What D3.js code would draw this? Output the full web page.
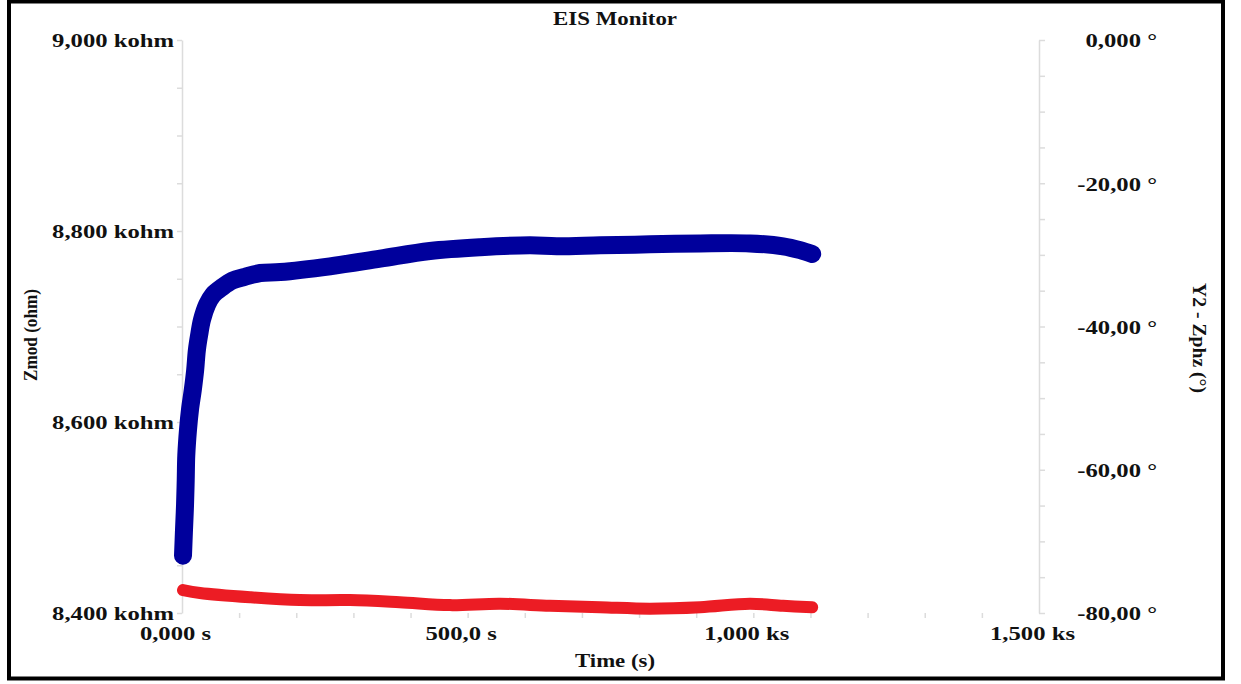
<!DOCTYPE html>
<html>
    <head>
        <meta charset="utf-8">
        <title>EIS Monitor</title>
        <script type="text/javascript" src="https://cdn.jsdelivr.net/npm/d3@7"></script>
        <style>
            body { margin: 0; background: #fff; }
            text { font-family: "Liberation Serif", "Times New Roman", serif; font-weight: bold; fill: #111; }
        </style>
    </head>
    <body>
        <svg id="svg"></svg>

        <script>
            var WIDTH = 1241;
            var HEIGHT = 684;

            // tick labels
            var xTicks = [0, 500, 1000, 1500];
            var xTickLabels = ["0,000 s", "500,0 s", "1,000 ks", "1,500 ks"];
            var zTicks = [8400, 8600, 8800, 9000];
            var zTickLabels = ["8,400 kohm", "8,600 kohm", "8,800 kohm", "9,000 kohm"];
            var phTicks = [0, -20, -40, -60, -80];
            var phTickLabels = ["0,000 °", "-20,00 °", "-40,00 °", "-60,00 °", "-80,00 °"];

            // Zmod series (blue), time in s, value in kohm
            var zmodTime = [1.75, 3.5, 5.3, 6.5, 7.5, 10.5, 14, 19, 23, 26, 30, 35, 44, 54, 70, 88, 110, 137,
                            172, 259, 347, 434, 522, 609, 656, 732, 819, 907, 994, 1052, 1082, 1103];
            var zmodValues = [8460, 8487, 8513, 8539, 8565, 8592, 8613, 8634, 8654, 8675, 8691, 8707, 8723, 8733, 8741, 8748, 8752, 8756,
                              8757, 8763, 8771, 8779, 8783, 8785, 8784, 8785, 8786, 8787, 8787, 8784, 8780, 8776];

            // Zphz series (red), time in s, value in degrees
            var zphzTime = [1.75, 31.5, 119, 206, 294, 381, 469, 557, 644, 732, 819, 907, 994, 1052, 1103];
            var zphzValues = [-76.8, -77.2, -77.8, -78.2, -78.2, -78.5, -78.9, -78.7, -79.0, -79.2, -79.4, -79.2, -78.7, -79.0, -79.2];

            var STRETCH = 1.37;  // the original text is drawn wide

            var svg = d3.select("#svg")
                        .attr("width", WIDTH)
                        .attr("height", HEIGHT)

            var stretch = function(sel){
                sel.each(function(){
                    var w = this.getComputedTextLength();
                    d3.select(this)
                      .attr("textLength", w * STRETCH)
                      .attr("lengthAdjust", "spacingAndGlyphs")
                })
            }

            // frame
            svg.append("rect")
               .attr("x", 9).attr("y", 1.5)
               .attr("width", 1214).attr("height", 677)
               .attr("fill", "none")
               .attr("stroke", "#000")
               .attr("stroke-width", 4)

            var xScale = d3.scaleLinear().domain([0, 1500]).range([182, 1039])
            var yLeft = d3.scaleLinear().domain([8400, 9000]).range([613, 40])
            var yRight = d3.scaleLinear().domain([-80, 0]).range([613, 40])

            var gridColor = "#dcdcdc";

            // left axis: line + minor ticks
            var leftMinor = svg.append("g")
               .attr("transform", "translate(182,0)")
               .call(d3.axisLeft(yLeft).tickValues(d3.range(8400, 9001, 50)).tickSize(5).tickFormat("").tickSizeOuter(0))
            leftMinor.select(".domain").attr("stroke", gridColor).attr("stroke-width", 1.5)
            leftMinor.selectAll(".tick line").attr("stroke", gridColor).attr("stroke-width", 1.5)

            var leftLabels = svg.append("g")
               .attr("transform", "translate(174,0)")
               .call(d3.axisLeft(yLeft).tickValues(zTicks).tickSize(0).tickPadding(0)
                       .tickFormat(function(d, i){ return zTickLabels[i]; }))
            leftLabels.select(".domain").remove()
            leftLabels.attr("font-family", null).attr("font-size", 18)
            leftLabels.selectAll("text").attr("dy", "0.38em").call(stretch)

            // right axis
            var rightMinor = svg.append("g")
               .attr("transform", "translate(1039,0)")
               .call(d3.axisRight(yRight).tickValues(d3.range(-80, 0.1, 5)).tickSize(6).tickFormat("").tickSizeOuter(0))
            rightMinor.select(".domain").attr("stroke", gridColor).attr("stroke-width", 1.5)
            rightMinor.selectAll(".tick line").attr("stroke", gridColor).attr("stroke-width", 1.5)

            var rightLabels = svg.append("g")
               .attr("transform", "translate(1157,0)")
               .call(d3.axisLeft(yRight).tickValues(phTicks).tickSize(0).tickPadding(0)
                       .tickFormat(function(d, i){ return phTickLabels[i]; }))
            rightLabels.select(".domain").remove()
            rightLabels.attr("font-family", null).attr("font-size", 18)
            rightLabels.selectAll("text").attr("dy", "0.38em").call(stretch)

            // bottom axis: minor ticks only
            var bottomMinor = svg.append("g")
               .attr("transform", "translate(0,613)")
               .call(d3.axisBottom(xScale).tickValues(d3.range(100, 1500, 100)).tickSize(5).tickFormat("").tickSizeOuter(0))
            bottomMinor.select(".domain").remove()
            bottomMinor.selectAll(".tick line").attr("stroke", gridColor).attr("stroke-width", 1.5)

            var bottomLabels = svg.append("g")
               .attr("transform", "translate(-7,640)")
               .call(d3.axisBottom(xScale).tickValues(xTicks).tickSize(0).tickPadding(0)
                       .tickFormat(function(d, i){ return xTickLabels[i]; }))
            bottomLabels.select(".domain").remove()
            bottomLabels.attr("font-family", null).attr("font-size", 18)
            bottomLabels.selectAll("text").attr("dy", 0).call(stretch)

            // series
            var zLine = d3.line()
                          .x(function(d){ return xScale(d[0]); })
                          .y(function(d){ return yLeft(d[1]); })
                          .curve(d3.curveCatmullRom)
            var pLine = d3.line()
                          .x(function(d){ return xScale(d[0]); })
                          .y(function(d){ return yRight(d[1]); })
                          .curve(d3.curveCatmullRom)

            svg.append("path")
               .datum(d3.zip(zphzTime, zphzValues))
               .attr("d", pLine)
               .attr("fill", "none")
               .attr("stroke", "#ec1c24")
               .attr("stroke-width", 12)
               .attr("stroke-linecap", "round")
               .attr("stroke-linejoin", "round")

            svg.append("path")
               .datum(d3.zip(zmodTime, zmodValues))
               .attr("d", zLine)
               .attr("fill", "none")
               .attr("stroke", "#00009c")
               .attr("stroke-width", 18)
               .attr("stroke-linecap", "round")
               .attr("stroke-linejoin", "round")

            // titles
            svg.append("text")
               .attr("x", 615).attr("y", 25)
               .attr("text-anchor", "middle")
               .attr("font-size", "18px")
               .attr("textLength", 124).attr("lengthAdjust", "spacingAndGlyphs")
               .text("EIS Monitor")

            svg.append("text")
               .attr("x", 615).attr("y", 667)
               .attr("text-anchor", "middle")
               .attr("font-size", "18px")
               .attr("textLength", 80).attr("lengthAdjust", "spacingAndGlyphs")
               .text("Time (s)")

            svg.append("text")
               .attr("transform", "translate(37,335) rotate(-90)")
               .attr("text-anchor", "middle")
               .attr("font-size", "18px")
               .attr("textLength", 92).attr("lengthAdjust", "spacingAndGlyphs")
               .text("Zmod (ohm)")

            svg.append("text")
               .attr("transform", "translate(1193,338) rotate(90)")
               .attr("text-anchor", "middle")
               .attr("font-size", "18px")
               .attr("textLength", 110).attr("lengthAdjust", "spacingAndGlyphs")
               .text("Y2 - Zphz (°)")
        </script>
    </body>
</html>
